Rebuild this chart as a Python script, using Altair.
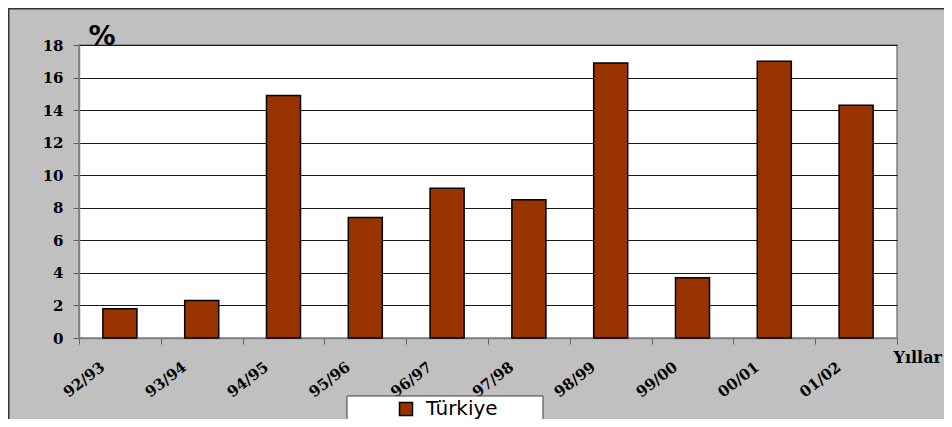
import altair as alt
import pandas as pd

years = ["92/93", "93/94", "94/95", "95/96", "96/97", "97/98", "98/99", "99/00", "00/01", "01/02"]
values = [1.8, 2.3, 14.9, 7.4, 9.2, 8.5, 16.9, 3.7, 17.0, 14.3]
series = ["Türkiye"] * len(years)
y_ticks = [0, 2, 4, 6, 8, 10, 12, 14, 16, 18]

W, H = 818, 293
PL, PT, PR, PB = 71, 37, 47, 81

df = pd.DataFrame({"yil": years, "deger": values, "seri": series})
one = pd.DataFrame({"a": [0]})

bars = alt.Chart(df).mark_bar(
    stroke="black", strokeWidth=1.5, width=alt.RelativeBandSize(0.416)
).encode(
    x=alt.X("yil:N", sort=years,
            scale=alt.Scale(paddingInner=0, paddingOuter=0),
            axis=alt.Axis(
                title="Yıllar", titleX=814, titleY=24, titleAlign="left",
                titleBaseline="alphabetic", titleFont="DejaVu Serif",
                titleFontWeight="bold", titleFontSize=16, titleColor="black",
                labelAngle=-38, labelAlign="right", labelBaseline="top",
                labelFont="DejaVu Serif", labelFontWeight="bold", labelFontSize=15,
                labelColor="black", labelOffset=-22, labelPadding=15,
                tickBand="extent", tickSize=6, tickColor="#606060",
                domainColor="#808080", domainWidth=1.5, grid=False)),
    y=alt.Y("deger:Q", scale=alt.Scale(domain=[0, 18], nice=False),
            axis=alt.Axis(
                values=y_ticks, title="%", titleAngle=0, titleX=9, titleY=-1,
                titleAlign="left", titleBaseline="alphabetic",
                titleFont="DejaVu Sans", titleFontWeight="bold", titleFontSize=27,
                titleColor="black",
                labelFont="DejaVu Serif", labelFontWeight="bold", labelFontSize=15,
                labelColor="black", labelPadding=10, tickSize=6, tickColor="#606060",
                domainColor="#808080", domainWidth=1.5,
                grid=True, gridColor="#1a1a1a", gridWidth=1)),
    color=alt.Color("seri:N", scale=alt.Scale(domain=["Türkiye"], range=["#993300"]),
                    legend=alt.Legend(
                        orient="none", legendX=317, legendY=354, title=None,
                        padding=0, symbolType="square", symbolSize=169,
                        symbolStrokeColor="black", symbolStrokeWidth=1.5,
                        symbolOpacity=1, labelFont="DejaVu Sans", labelFontSize=20,
                        labelColor="black", labelOffset=10)),
)

legend_box = alt.Chart(one).mark_rect(fill="white", stroke="#404040", strokeWidth=1).encode(
    x=alt.value(268), x2=alt.value(464), y=alt.value(351), y2=alt.value(380)
)

border_top = alt.Chart(one).mark_rule(color="#333333", strokeWidth=1.5).encode(
    x=alt.value(-PL), x2=alt.value(W + PR), y=alt.value(-PT + 0.75)
)
border_left = alt.Chart(one).mark_rule(color="#333333", strokeWidth=1.5).encode(
    x=alt.value(-PL + 0.75), y=alt.value(-PT), y2=alt.value(H + PB)
)

chart = alt.layer(legend_box, bars, border_top, border_left).properties(
    width=W, height=H,
    padding={"left": PL, "top": PT, "right": PR, "bottom": PB},
    autosize=alt.AutoSizeParams(type="none"),
    background="#C0C0C0",
).configure_view(fill="white", stroke="#808080", strokeWidth=1.5)

chart.save("out.html", embed_options={"renderer": "svg", "actions": False})
